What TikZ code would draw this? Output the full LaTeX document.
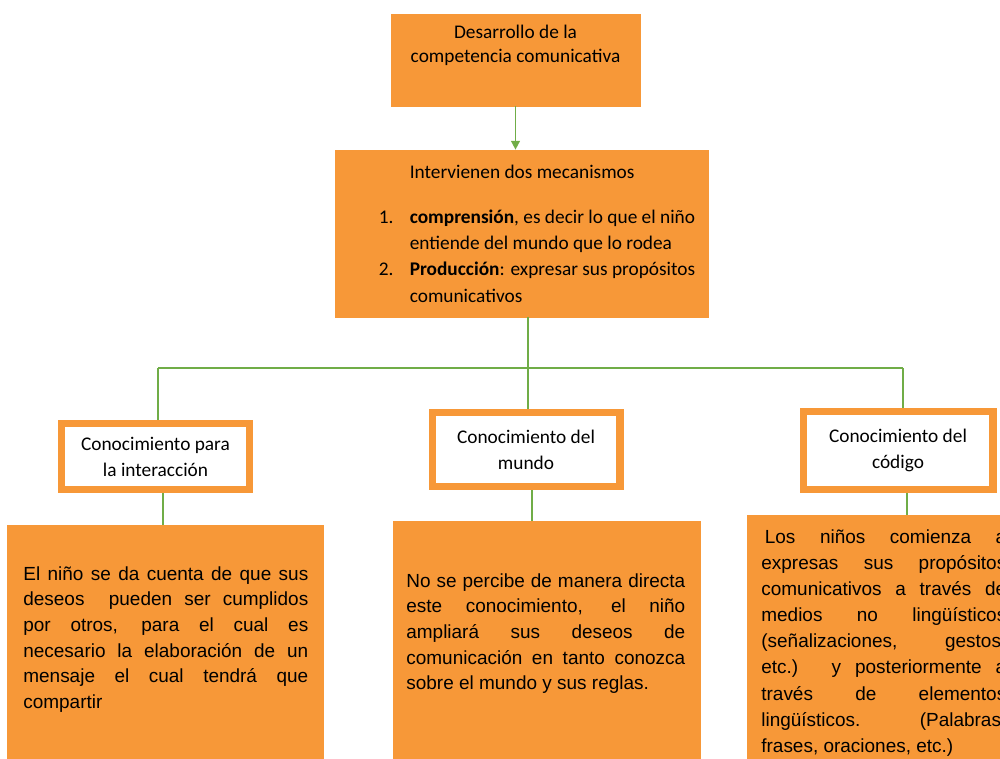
\documentclass[tikz,border=0pt]{standalone}
\usepackage{fontspec}
\setmainfont{Carlito}
\newfontfamily\arialfont{Liberation Sans}
\usetikzlibrary{arrows.meta}
\definecolor{boxorange}{HTML}{F79838}
\definecolor{linkgreen}{HTML}{70AD47}
\begin{document}
\begin{tikzpicture}
    [
        x=0.02cm, y=-0.02cm,
        mainbox/.style={rectangle, fill=boxorange, draw=boxorange, align=center, font=\fontsize{11}{14.2}\selectfont},
        topicbox/.style={rectangle, fill=white, draw=boxorange, line width=4pt, align=center, minimum width=3.76cm, font=\fontsize{11}{14.8}\selectfont},
        detailbox/.style={rectangle, fill=boxorange, draw=boxorange, anchor=north west, minimum height=5cm},
        detailtext/.style={anchor=north west, inner sep=0pt, align=justify, font=\arialfont\fontsize{10.8}{14.6}\selectfont},
        link/.style={draw=linkgreen, line width=0.9pt},
    ]
    \useasboundingbox (0,0) rectangle (1000,759);
    \clip (0,0) rectangle (1000,759);
    % top of the map
    \node (devel) at (515.5,60) [mainbox, minimum width=4.98cm, minimum height=1.84cm] {Desarrollo de la\\competencia comunicativa\\ \strut};
    \node (mech) at (521.5,233.5) [mainbox, minimum width=7.46cm, minimum height=3.34cm, align=left, font=\fontsize{11}{15}\selectfont]
        {\hspace*{1.24cm}Intervienen dos mecanismos\\[10.5pt]
         \hspace*{0.62cm}\makebox[0.62cm][l]{1.}\textbf{comprensión}, es decir lo que el niño\\
         \hspace*{1.24cm}entiende del mundo que lo rodea\\
         \hspace*{0.62cm}\makebox[0.62cm][l]{2.}\textbf{Producción}: expresar sus propósitos\\
         \hspace*{1.24cm}comunicativos};
    % three kinds of knowledge
    \node (interaction) at (155.5,456.5) [topicbox, minimum height=1.32cm] {Conocimiento para\\la interacción};
    \node (world) at (526,449.5) [topicbox, minimum height=1.48cm] {Conocimiento del\\mundo};
    \node (code) at (898,450.5) [topicbox, minimum width=3.8cm, minimum height=1.56cm] {Conocimiento del\\código};
    % explanations
    \node (wishbox) at (7,525) [detailbox, minimum width=6.32cm] {};
    \node (rulesbox) at (393,521) [detailbox, minimum width=6.14cm] {};
    \node (signbox) at (747,515) [detailbox, minimum width=6cm] {};
    \node (wishtext) at (23,566) [detailtext, text width=5.7cm]
        {El niño se da cuenta de que sus\linebreak deseos\ \ pueden ser cumplidos\linebreak por otros, para el cual es\linebreak necesario la elaboración de un\linebreak mensaje el cual tendrá que\linebreak compartir};
    \node (rulestext) at (406,573) [detailtext, text width=5.58cm]
        {No se percibe de manera directa\linebreak este conocimiento, el niño\linebreak ampliará sus deseos de\linebreak comunicación en tanto conozca\linebreak sobre el mundo y sus reglas.};
    \node (signtext) at (761,529) [detailtext, text width=4.9cm, font=\arialfont\fontsize{10.8}{14.9}\selectfont]
        {\hspace*{2pt}Los niños comienza a\linebreak expresas sus propósitos\linebreak comunicativos a través de\linebreak medios no lingüísticos\linebreak (señalizaciones, gestos,\linebreak etc.) y posteriormente a\linebreak través de elementos\linebreak lingüísticos. (Palabras,\linebreak frases, oraciones, etc.)};
    % connectors
    \coordinate (hub) at (528,368);
    \coordinate (hubL) at (158,368);
    \coordinate (hubR) at (903,368);
    \coordinate (dropL) at (163,505);
    \coordinate (dropM) at (532,505);
    \coordinate (dropR) at (907,505);
    \draw [link, -{Triangle[length=5pt,width=5pt]}] (devel.south) -- (devel.south |- mech.north);
    \draw [link] (mech.south -| hub) -- (hub) -- (world.north -| hub);
    \draw [link] (hubL) -- (hubR);
    \draw [link] (hubL) -- (hubL |- interaction.north);
    \draw [link] (hubR) -- (hubR |- code.north);
    \draw [link] (interaction.south -| dropL) -- (wishbox.north -| dropL);
    \draw [link] (world.south -| dropM) -- (rulesbox.north -| dropM);
    \draw [link] (code.south -| dropR) -- (signbox.north -| dropR);
\end{tikzpicture}
\end{document}
